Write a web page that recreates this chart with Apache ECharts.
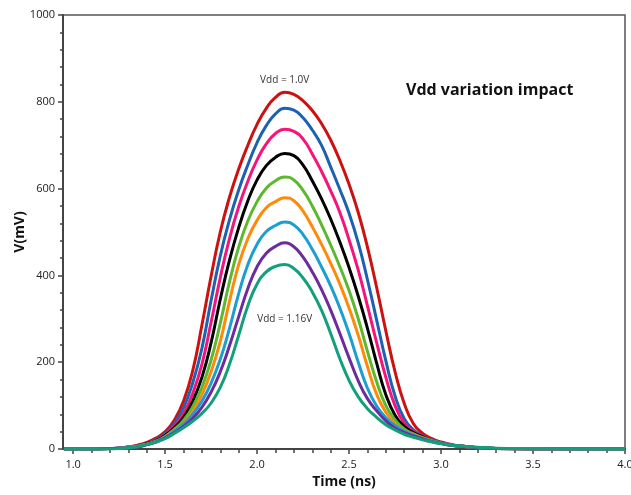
<!DOCTYPE html>
<html>
<head>
<meta charset="utf-8">
<script src="https://cdn.jsdelivr.net/npm/echarts@6/dist/echarts.min.js"></script>
<style>
  html, body { margin: 0; padding: 0; background: #ffffff; }
  #chart { width: 631px; height: 495px; }
</style>
</head>
<body>
<div id="chart"></div>
<script>
// Supply voltage of each waveform, highest pulse (1.00 V) to lowest (1.16 V)
const vddLevels = ['1.00', '1.02', '1.04', '1.06', '1.08', '1.10', '1.12', '1.14', '1.16'];
const lineColors = ['#cc1111', '#1c62b0', '#f5157a', '#000000', '#5cb82e', '#ff8a0a', '#1a9fd0', '#6c2c9e', '#12a07c'];

// Sample times (ns)
const timeNs = [0.95, 1.0, 1.1, 1.2, 1.25, 1.3, 1.35, 1.4, 1.45, 1.5, 1.55, 1.6, 1.65, 1.7, 1.75, 1.8, 1.85, 1.9, 1.95, 2.0,
  2.05, 2.1, 2.15, 2.2, 2.25, 2.3, 2.35, 2.4, 2.45, 2.5, 2.55, 2.6, 2.65, 2.7, 2.75, 2.8, 2.85, 2.9, 2.95, 3.0,
  3.05, 3.1, 3.2, 3.3, 3.5, 3.75, 4.0];

// Output pulse voltage (mV) at each sample time, one array per supply level
const vdd100 = [0,0,0,1, 2,5,9,15,25,40,66,110,180,285, 398,500,580,645,700,748,785,810,822,817, 802,780,750,712,665,610,545,465,372,272, 178,105,58,36,24,16,11,7, 3,1,0,0,0];
const vdd102 = [0,0,0,1, 2,4,7,13,22,36,58,95,152,232, 342,445,528,597,655,706,745,772,785,781, 763,735,700,650,598,543,475,390,297,203, 122,70,44,30,21,15,10,7, 3,1,0,0,0];
const vdd104 = [0,0,0,1, 2,4,7,12,20,33,53,82,128,195, 292,395,485,558,617,666,703,727,737,732, 714,680,640,595,545,482,412,330,245,165, 100,60,41,29,20,14,9,7, 3,1,0,0,0];
const vdd106 = [0,0,0,1, 2,4,6,12,19,31,49,73,110,165, 245,345,435,510,572,620,653,672,681,676, 654,618,577,530,477,418,352,278,198,125, 78,52,38,28,19,14,9,7, 3,1,0,0,0];
const vdd108 = [0,0,0,1, 2,4,6,11,18,29,45,66,97,142, 205,290,385,465,526,570,601,618,627,620, 596,560,517,470,420,365,300,225,155,100, 67,46,35,26,19,14,9,7, 3,1,0,0,0];
const vdd110 = [0,0,0,1, 2,4,6,11,17,28,42,60,86,125, 178,248,340,425,485,527,556,570,579,572, 548,512,472,428,380,325,262,190,126,85, 58,42,33,25,18,13,9,7, 3,1,0,0,0];
const vdd112 = [0,0,0,1, 2,3,5,10,17,27,41,58,80,110, 152,207,278,358,425,472,501,515,523,516, 494,460,420,376,325,266,200,140,99,72, 54,41,32,24,18,13,9,7, 3,1,0,0,0];
const vdd114 = [0,0,0,1, 2,3,5,10,16,26,38,52,71,96, 131,178,238,305,370,420,451,467,475,466, 442,408,368,320,266,210,157,116,88,65, 48,38,30,23,17,13,9,7, 3,1,0,0,0];
const vdd116 = [0,0,0,0, 1,3,6,10,16,24,36,49,64,82, 106,142,195,262,330,380,408,421,425,416, 394,362,320,266,208,158,120,93,73,56, 44,34,27,21,16,12,9,7, 4,2,1,0,0];

const waves = [vdd100, vdd102, vdd104, vdd106, vdd108, vdd110, vdd112, vdd114, vdd116];

// Axis ticks
const timeMajorTicks = [1.0, 1.5, 2.0, 2.5, 3.0, 3.5, 4.0];
const timeMinorTicks = [1.1, 1.2, 1.3, 1.4, 1.6, 1.7, 1.8, 1.9, 2.1, 2.2, 2.3, 2.4, 2.6, 2.7, 2.8, 2.9, 3.1, 3.2, 3.3, 3.4, 3.6, 3.7, 3.8, 3.9];
const voltMin = 0, voltMax = 1000, voltStep = 200;
const timeMin = 0.945, timeMax = 4.0;

const textFont = '"Open Sans", "DejaVu Sans", sans-serif';

function toPoints(values) {
  return timeNs.map((t, k) => [t, values[k]]);
}

function peakOf(points) {
  return points.reduce((best, p) => (p[1] > best[1] ? p : best), points[0]);
}

const series = waves.map((values, i) => {
  const points = toPoints(values);
  const s = {
    name: 'Vdd = ' + vddLevels[i] + 'V',
    type: 'line',
    data: points,
    showSymbol: false,
    smooth: 0.5,
    lineStyle: { color: lineColors[i], width: 3 },
    itemStyle: { color: lineColors[i] },
    z: 2 + i
  };
  if (i === 0 || i === waves.length - 1) {
    const top = i === 0;
    s.markPoint = {
      symbol: 'circle',
      symbolSize: 0,
      silent: true,
      data: [{ coord: peakOf(points) }],
      label: {
        show: true,
        formatter: top ? 'Vdd = 1.0V' : 'Vdd = 1.16V',
        position: top ? 'top' : 'bottom',
        distance: top ? 7 : 50,
        fontFamily: textFont,
        fontSize: 10,
        color: '#333'
      }
    };
  }
  return s;
});

const chart = echarts.init(document.getElementById('chart'), null, { renderer: 'canvas' });
chart.setOption({
  animation: false,
  backgroundColor: '#ffffff',
  title: {
    text: 'Vdd variation impact',
    left: 401,
    top: 77,
    textStyle: { fontFamily: textFont, fontSize: 16, fontWeight: 'bold', color: '#111' }
  },
  grid: {
    left: 63, right: 6, top: 15, bottom: 46,
    outerBoundsMode: 'none',
    containLabel: false,
    show: true, borderColor: '#555', borderWidth: 1.5, backgroundColor: 'transparent'
  },
  xAxis: [
    {
      type: 'value',
      min: timeMin, max: timeMax,
      position: 'bottom',
      name: 'Time (ns)',
      nameLocation: 'middle',
      nameGap: 23,
      nameTextStyle: { fontFamily: textFont, fontSize: 14, fontWeight: 'bold', color: '#111' },
      axisLine: { show: true, lineStyle: { color: '#444', width: 2 } },
      axisTick: { show: true, customValues: timeMajorTicks, length: 5, lineStyle: { color: '#444', width: 1.5 } },
      axisLabel: {
        show: true, customValues: timeMajorTicks, margin: 10,
        alignMinLabel: 'center', alignMaxLabel: 'center',
        formatter: v => Number(v).toFixed(1),
        fontFamily: textFont, fontSize: 11, color: '#222'
      },
      splitLine: { show: false }
    },
    {
      type: 'value',
      min: timeMin, max: timeMax,
      position: 'bottom',
      axisLine: { show: false },
      axisTick: { show: true, customValues: timeMinorTicks, length: 4, lineStyle: { color: '#444', width: 1.5 } },
      axisLabel: { show: false },
      splitLine: { show: false }
    }
  ],
  yAxis: {
    type: 'value',
    min: voltMin, max: voltMax, interval: voltStep,
    name: 'V(mV)',
    nameLocation: 'middle',
    nameGap: 36,
    nameMoveOverlap: false,
    nameTextStyle: { fontFamily: textFont, fontSize: 14, fontWeight: 'bold', color: '#111' },
    axisLine: { show: true, lineStyle: { color: '#444', width: 2 } },
    axisTick: { show: true, length: 5, lineStyle: { color: '#444', width: 1.5 } },
    minorTick: { show: true, splitNumber: 5, length: 3, lineStyle: { color: '#444', width: 1.5 } },
    axisLabel: { margin: 8, formatter: v => String(v), fontFamily: textFont, fontSize: 11, color: '#222' },
    splitLine: { show: false }
  },
  series: series
});
</script>
</body>
</html>
